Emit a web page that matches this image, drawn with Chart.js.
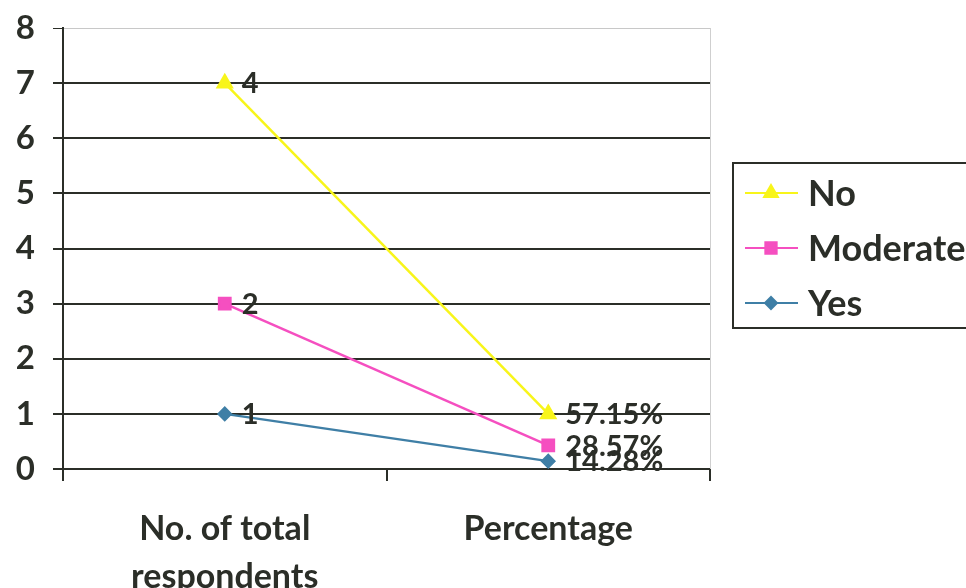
<!DOCTYPE html>
<html>
<head>
<meta charset="utf-8">
<script src="https://cdn.jsdelivr.net/npm/chart.js@4/dist/chart.umd.min.js"></script>
<style>
  html, body { margin: 0; padding: 0; background: #ffffff; }
  #wrap { width: 966px; height: 588px; position: relative; }
</style>
</head>
<body>
<div id="wrap"><canvas id="c" width="966" height="588"></canvas></div>
<script>
// Categories along the x axis
const categories = [['No. of total', 'respondents'], 'Percentage'];

// Series values (stacked): respondents count, then share of total
const yesValues = [1, 0.1428];
const moderateValues = [2, 0.2857];
const noValues = [4, 0.5715];

// Y axis ticks
const yTicks = [0, 1, 2, 3, 4, 5, 6, 7, 8];

const FONT = 'Lato, "Open Sans", sans-serif';
const INK = '#2b2e28';

function valueLabel(v, i) {
  return i === 0 ? String(v) : (v * 100).toFixed(2) + '%';
}

// Value labels drawn right of each point
const pointLabels = {
  id: 'pointLabels',
  afterDatasetsDraw(chart) {
    const ctx = chart.ctx;
    ctx.save();
    ctx.font = 'bold 29px ' + FONT;
    ctx.fillStyle = INK;
    ctx.textAlign = 'left';
    ctx.textBaseline = 'middle';
    chart.data.datasets.forEach((ds, di) => {
      const meta = chart.getDatasetMeta(di);
      meta.data.forEach((pt, i) => {
        ctx.fillText(valueLabel(ds.data[i], i), pt.x + 17, pt.y + 1);
      });
    });
    ctx.restore();
  }
};

// Boxed legend on the right, line + marker swatches
const boxLegend = {
  id: 'boxLegend',
  afterDraw(chart) {
    const ctx = chart.ctx;
    const order = [2, 1, 0];
    const x0 = 733, y0 = 163, w = 240, h = 165;
    ctx.save();
    ctx.strokeStyle = INK;
    ctx.lineWidth = 2;
    ctx.strokeRect(x0, y0, w, h);
    ctx.font = 'bold 36px ' + FONT;
    ctx.textBaseline = 'middle';
    order.forEach((di, k) => {
      const ds = chart.data.datasets[di];
      const y = 193 + k * 55;
      ctx.strokeStyle = ds.borderColor;
      ctx.lineWidth = 2;
      ctx.beginPath();
      ctx.moveTo(745, y);
      ctx.lineTo(798, y);
      ctx.stroke();
      ctx.fillStyle = ds.pointBackgroundColor;
      ctx.strokeStyle = ds.pointBorderColor;
      Chart.helpers.drawPoint(ctx, {
        pointStyle: ds.pointStyle,
        radius: ds.pointRadius,
        borderWidth: 1,
        rotation: 0
      }, 771, y);
      ctx.fillStyle = INK;
      ctx.fillText(ds.label, 808, y + 1);
    });
    ctx.restore();
  }
};

// Thin light frame line on the right edge of the plot
const rightEdge = {
  id: 'rightEdge',
  beforeDatasetsDraw(chart) {
    const a = chart.chartArea, ctx = chart.ctx;
    ctx.save();
    ctx.strokeStyle = '#cfcfcf';
    ctx.lineWidth = 1;
    ctx.beginPath();
    ctx.moveTo(a.right + 0.5, a.top);
    ctx.lineTo(a.right + 0.5, a.bottom);
    ctx.stroke();
    ctx.restore();
  }
};

new Chart(document.getElementById('c'), {
  type: 'line',
  data: {
    labels: categories,
    datasets: [
      {
        label: 'Yes', data: yesValues,
        borderColor: '#3f7fa6', backgroundColor: '#3f7fa6',
        pointBackgroundColor: '#3f7fa6', pointBorderColor: '#3f7fa6',
        pointStyle: 'rectRot', pointRadius: 6, borderWidth: 2.5
      },
      {
        label: 'Moderate', data: moderateValues,
        borderColor: '#f54fc0', backgroundColor: '#f54fc0',
        pointBackgroundColor: '#f54fc0', pointBorderColor: '#f54fc0',
        pointStyle: 'rect', pointRadius: 8, borderWidth: 2.5
      },
      {
        label: 'No', data: noValues,
        borderColor: '#f8f51a', backgroundColor: '#f8f51a',
        pointBackgroundColor: '#f8f51a', pointBorderColor: '#f8f51a',
        pointStyle: 'triangle', pointRadius: 8, borderWidth: 2.5
      }
    ]
  },
  options: {
    responsive: false,
    animation: false,
    events: [],
    layout: { padding: { left: 0, top: 28, right: 256, bottom: 0 } },
    elements: { line: { tension: 0 } },
    plugins: { legend: { display: false }, tooltip: { enabled: false } },
    scales: {
      x: {
        type: 'category',
        offset: true,
        grid: {
          offset: true,
          drawOnChartArea: false,
          color: INK,
          tickColor: INK,
          tickLength: 12,
          lineWidth: 2
        },
        border: { display: true, color: INK, width: 2 },
        ticks: {
          color: INK,
          padding: 24,
          maxRotation: 0,
          autoSkip: false,
          font: { family: FONT, size: 34, weight: 'bold', lineHeight: 1.42 }
        },
        afterFit(scale) { scale.height = 119; }
      },
      y: {
        stacked: true,
        min: 0,
        max: 8,
        afterBuildTicks(scale) { scale.ticks = yTicks.map(v => ({ value: v })); },
        grid: {
          color: ctx => (ctx.tick && ctx.tick.value === 8) ? '#c8c8c8' : INK,
          lineWidth: ctx => (ctx.tick && ctx.tick.value === 8) ? 1 : 2,
          tickColor: INK,
          tickLength: 10
        },
        border: { display: true, color: INK, width: 2 },
        ticks: {
          color: INK,
          padding: 18,
          font: { family: FONT, size: 33, weight: 'bold' }
        },
        afterFit(scale) {
          scale.width = 63;
          scale.paddingTop = 0;
          scale.paddingBottom = 0;
        }
      }
    }
  },
  plugins: [rightEdge, pointLabels, boxLegend]
});
</script>
</body>
</html>
